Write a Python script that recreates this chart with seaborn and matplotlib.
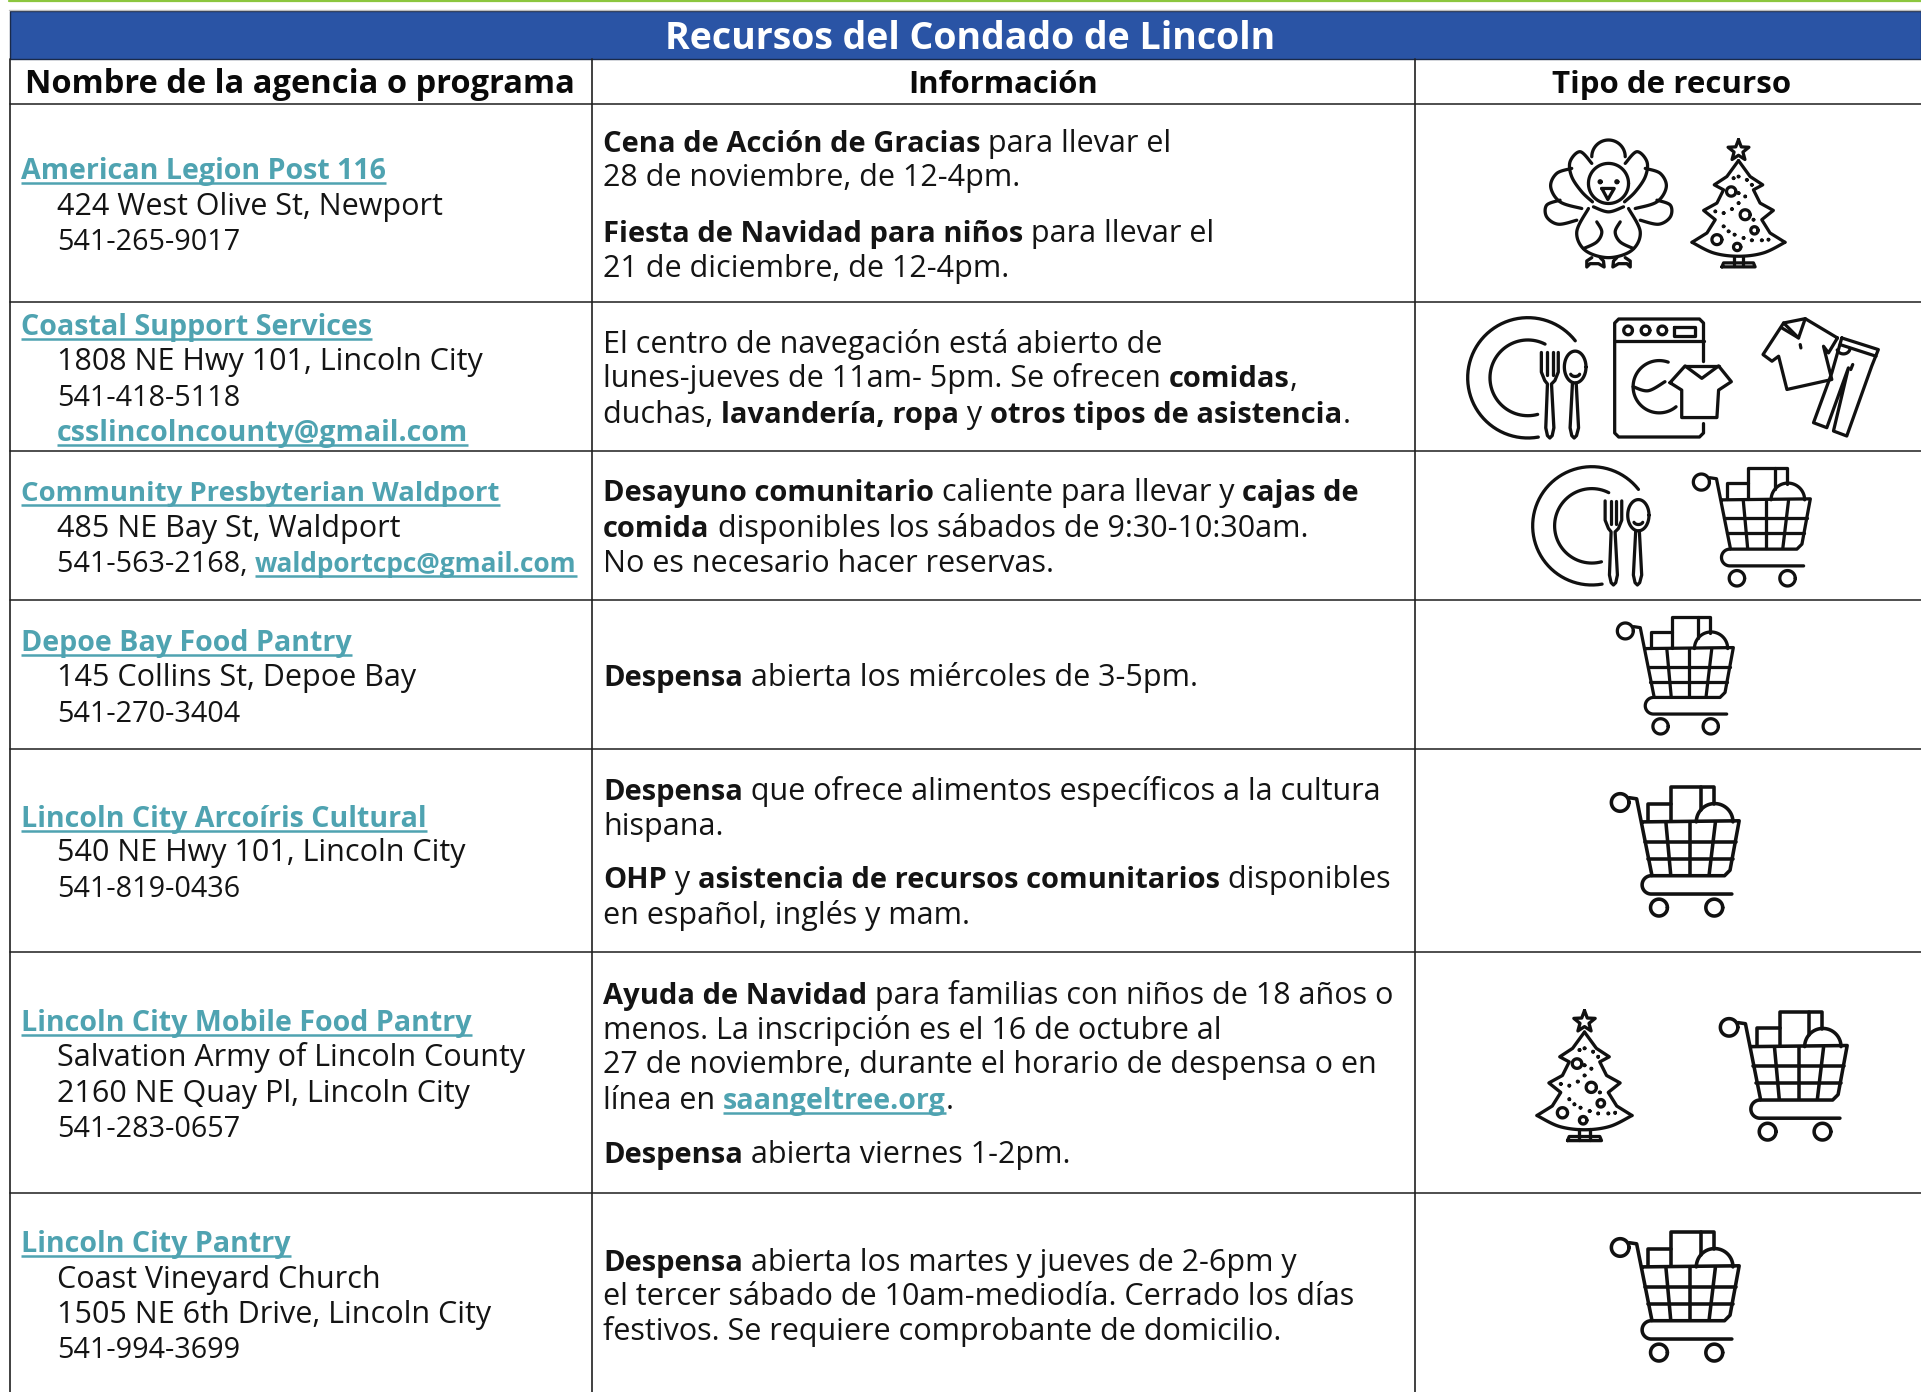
import numpy as np
import seaborn as sns
from matplotlib import pyplot as plt
from matplotlib.patches import Rectangle

sns.set_theme(style="white")
plt.rcParams["font.family"] = ["Open Sans", "DejaVu Sans"]

# table text, n = normal, b = bold, l = link
title = "Recursos del Condado de Lincoln"
headers = ["Nombre de la agencia o programa", "Información", "Tipo de recurso"]

agencies = [
    ["American Legion Post 116", "424 West Olive St, Newport", "541-265-9017"],
    ["Coastal Support Services", "1808 NE Hwy 101, Lincoln City", "541-418-5118", "@csslincolncounty@gmail.com"],
    ["Community Presbyterian Waldport", "485 NE Bay St, Waldport", "541-563-2168, @waldportcpc@gmail.com"],
    ["Depoe Bay Food Pantry", "145 Collins St, Depoe Bay", "541-270-3404"],
    ["Lincoln City Arcoíris Cultural", "540 NE Hwy 101, Lincoln City", "541-819-0436"],
    ["Lincoln City Mobile Food Pantry", "Salvation Army of Lincoln County", "2160 NE Quay Pl, Lincoln City", "541-283-0657"],
    ["Lincoln City Pantry", "Coast Vineyard Church", "1505 NE 6th Drive, Lincoln City", "541-994-3699"],
]

info = [
    [
        [("Cena de Acción de Gracias", "b"), (" para llevar el", "n")],
        [("28 de noviembre, de 12-4pm.", "n")],
        [("Fiesta de Navidad para niños", "b"), (" para llevar el", "n")],
        [("21 de diciembre, de 12-4pm.", "n")],
    ],
    [
        [("El centro de navegación está abierto de", "n")],
        [("lunes-jueves de 11am- 5pm. Se ofrecen ", "n"), ("comidas", "b"), (",", "n")],
        [("duchas, ", "n"), ("lavandería, ropa", "b"), (" y ", "n"), ("otros tipos de asistencia", "b"), (".", "n")],
    ],
    [
        [("Desayuno comunitario", "b"), (" caliente para llevar y ", "n"), ("cajas de", "b")],
        [("comida", "b"), (" disponibles los sábados de 9:30-10:30am.", "n")],
        [("No es necesario hacer reservas.", "n")],
    ],
    [
        [("Despensa", "b"), (" abierta los miércoles de 3-5pm.", "n")],
    ],
    [
        [("Despensa", "b"), (" que ofrece alimentos específicos a la cultura", "n")],
        [("hispana.", "n")],
        [("OHP", "b"), (" y ", "n"), ("asistencia de recursos comunitarios", "b"), (" disponibles", "n")],
        [("en español, inglés y mam.", "n")],
    ],
    [
        [("Ayuda de Navidad", "b"), (" para familias con niños de 18 años o", "n")],
        [("menos. La inscripción es el 16 de octubre al", "n")],
        [("27 de noviembre, durante el horario de despensa o en", "n")],
        [("línea en ", "n"), ("saangeltree.org", "l"), (".", "n")],
        [("Despensa", "b"), (" abierta viernes 1-2pm.", "n")],
    ],
    [
        [("Despensa", "b"), (" abierta los martes y jueves de 2-6pm y", "n")],
        [("el tercer sábado de 10am-mediodía. Cerrado los días", "n")],
        [("festivos. Se requiere comprobante de domicilio.", "n")],
    ],
]

# layout in image pixels
S = 1921 / 1568
row_lines = [104, 302, 451, 600, 749, 952, 1193]
col_lines = [10, 592, 1415]
agency_y = [
    [138, 167, 196], [265, 294, 323, 352], [401, 430, 459], [523, 552, 581],
    [667, 695, 724], [833, 862, 891, 920], [1014, 1043, 1072, 1100],
]
info_y = [
    [116, 144, 189, 218], [280, 308, 337], [401, 430, 459], [552],
    [645, 673, 717, 746], [811, 840, 868, 897, 941], [1029, 1057, 1086],
]
header_x = [300, 1003, 1672]
header_fs = [23.5, 22.3, 22.5]
# icon name, left, top, width
icons = [
    ("turkey", 1545, 140, 127), ("tree", 1692, 140, 93),
    ("plate", 1467, 318, 120), ("washer", 1613, 318, 119), ("clothes", 1762, 318, 118),
    ("plate", 1532, 467, 118), ("cart", 1693, 467, 119),
    ("cart", 1617, 616, 118),
    ("cart", 1611, 786, 130),
    ("tree", 1537, 1011, 95), ("cart", 1720, 1011, 129),
    ("cart", 1611, 1231, 130),
]

LINK = "#4FA3B1"
INK = "#141414"
FS_NORMAL = 22.0
FS_PHONE = 20.7
FS_BOLD = 21.0
FS_LINK = 20.6
# these two run wide in the substitute font
LINK_SCALE = {"waldportcpc@gmail.com": 0.92, "Community Presbyterian Waldport": 0.96}


def arc(cx, cy, rx, ry, a0=0, a1=360):
    a = np.radians(np.linspace(a0, a1, 60))
    return np.c_[cx + rx * np.cos(a), cy - ry * np.sin(a)]


def smooth(points):
    p = np.array(points, float)
    p = np.vstack([p[0], p, p[-1]])
    out = []
    for i in range(1, len(p) - 2):
        t = np.linspace(0, 1, 16)[:, None]
        a, b, c, d = p[i - 1], p[i], p[i + 1], p[i + 2]
        out.append(0.5 * (2 * b + (c - a) * t + (2 * a - 5 * b + 4 * c - d) * t**2 + (3 * b - a - 3 * c + d) * t**3))
    return np.vstack(out)


def mirror(points, x0):
    p = np.array(points, float)
    p[:, 0] = 2 * x0 - p[:, 0]
    return p


def cart():
    s = [arc(665, 65, 24, 24)]
    s.append(np.array([(690, 52), (710, 55), (752, 265), (950, 265), (965, 250), (990, 115), (725, 118)]))
    s += [np.array(q) for q in (
        [(790, 120), (803, 262)], [(857, 120), (857, 262)], [(925, 120), (908, 262)],
        [(732, 172), (980, 172)], [(740, 218), (972, 218)],
        [(742, 115), (742, 68), (805, 68)], [(805, 115), (805, 22), (920, 22), (920, 70)],
        [(885, 24), (885, 85)],
    )]
    s.append(np.vstack([arc(750, 290, 25, 25, 90, 270), [(970, 315)]]))
    s += [arc(771, 352, 23, 23), arc(922, 352, 23, 23), arc(923, 118, 50, 50, 0, 180)]
    return s, (640, 20, 355)


def plate():
    s = [arc(335, 197, 178, 178, 38, 280), arc(335, 197, 112, 112, 63, 285)]
    s.append(np.array([(375, 122), (375, 180), (385, 205), (393, 215), (388, 345), (393, 368), (400, 375),
                       (407, 368), (412, 345), (405, 215), (415, 205), (425, 180), (425, 122)]))
    s += [np.array([(392, 122), (392, 190)]), np.array([(408, 122), (408, 190)])]
    s.append(arc(475, 165, 32, 47))
    s.append(np.array([(467, 212), (460, 345), (465, 368), (472, 375), (479, 368), (485, 345), (478, 212)]))
    s.append(arc(475, 183, 14, 10, 200, 340))
    return s, (155, 20, 355)


def washer():
    s = [np.array([(910, 1085), (910, 970), (898, 958), (657, 958), (645, 970), (645, 1298), (657, 1310),
                   (898, 1310), (910, 1298), (910, 1270)])]
    s.append(np.array([(645, 1025), (910, 1025)]))
    s += [arc(685, 992, 13, 13), arc(737, 992, 13, 13), arc(787, 992, 13, 13)]
    s.append(np.array([(822, 982), (885, 982), (885, 1008), (822, 1008), (822, 982)]))
    s.append(arc(778, 1160, 78, 78, 70, 310))
    s.append(smooth([(700, 1160), (745, 1172), (795, 1145)]))
    s.append(np.array([(810, 1148), (855, 1098), (905, 1135), (955, 1098), (993, 1145), (955, 1170),
                       (950, 1252), (845, 1252), (845, 1170), (810, 1148)]))
    s.append(np.array([(855, 1098), (955, 1098)]))
    return s, (640, 955, 355)


def clothes():
    s = [np.array([(1312, 1015), (1215, 957), (1150, 970), (1088, 1065), (1115, 1085), (1135, 1070),
                   (1160, 1170), (1295, 1140), (1270, 1040), (1285, 1060), (1312, 1015)])]
    s += [np.array([(1145, 985), (1195, 1015), (1215, 957)]), np.array([(1150, 970), (1195, 1015)])]
    s.append(np.array([(1325, 1015), (1435, 1050), (1415, 1100), (1340, 1310), (1300, 1295), (1345, 1105),
                       (1280, 1285), (1240, 1270), (1295, 1120), (1325, 1015)]))
    s.append(np.array([(1320, 1035), (1428, 1070)]))
    s.append(arc(1330, 1045, 20, 18, 200, 340))
    s.append(np.array([(1200, 1035), (1202, 1045)]))
    s.append(np.array([(1358, 1095), (1352, 1110)]))
    return s, (1085, 955, 355)


def turkey():
    x0 = 625
    s = [arc(x0, 550, 60, 60), arc(x0, 470, 50, 50, 0, 180)]
    s.append(arc(600, 545, 3, 3))
    s.append(arc(650, 545, 3, 3))
    s.append(np.array([(605, 565), (642, 565), (623, 598), (605, 565)]))
    s.append(smooth([(565, 625), (530, 695), (555, 750), (625, 772), (695, 750), (720, 695), (685, 625)]))
    left = [
        [(575, 490), (540, 455), (510, 485), (515, 530), (545, 575), (577, 605)],
        [(515, 505), (470, 520), (452, 560), (480, 605), (545, 625)],
        [(480, 600), (440, 615), (440, 650), (475, 672), (530, 660)],
        [(590, 665), (605, 695), (590, 725), (550, 745)],
    ]
    for part in left:
        s.append(smooth(part))
        s.append(mirror(smooth(part), x0))
    s.append(smooth([(580, 620), (625, 635), (670, 620)]))
    foot = np.array([(575, 772), (560, 782), (560, 800), (570, 790), (595, 790), (612, 800), (610, 782), (600, 772)])
    s += [foot, mirror(foot, x0)]
    return s, (435, 420, 380)


def tree():
    x0 = 1015
    ang = np.radians(90 + 36 * np.arange(11))
    r = np.where(np.arange(11) % 2 == 0, 33, 14)
    s = [np.c_[x0 + r * np.cos(ang), 452 - r * np.sin(ang)]]
    side = [(1015, 482), (1050, 530), (1088, 555), (1060, 570), (1080, 610), (1120, 632), (1085, 660), (1110, 700),
            (1155, 728)]
    s.append(np.array(side))
    s.append(mirror(side, x0))
    s.append(smooth([(875, 728), (940, 760), (1015, 770), (1090, 760), (1155, 728)]))
    s += [arc(993, 575, 14, 14), arc(1035, 645, 15, 15), arc(1063, 692, 11, 11), arc(950, 720, 15, 15),
          arc(1011, 742, 11, 11)]
    s += [np.array([(1000, 768), (1000, 800)]), np.array([(1030, 768), (1030, 800)])]
    s.append(np.array([(965, 802), (1065, 802), (1060, 790), (970, 790), (965, 802)]))
    dots = [(1015, 530), (1040, 540), (1055, 555), (1015, 580), (1035, 590), (1015, 610), (995, 628), (970, 640),
            (945, 635), (970, 680), (985, 695), (1003, 705), (1030, 715), (1055, 722), (1085, 722), (1105, 720),
            (1000, 535), (1060, 660)]
    for d in dots:
        s.append(arc(d[0], d[1], 1, 1))
    return s, (875, 420, 280)


ICONS = {"cart": cart, "plate": plate, "washer": washer, "clothes": clothes, "turkey": turkey, "tree": tree}


def draw_icon(ax, name, left, top, width):
    strokes, (bx, by, size) = ICONS[name]()
    k = width / size
    for st in strokes:
        ax.plot(left + (st[:, 0] - bx) * k, top + (st[:, 1] - by) * k, color="#111111",
                lw=7.0 * k, solid_capstyle="round", solid_joinstyle="round")


def text_w(ax, rend, s, **kw):
    a = ax.text(0, 0, s + "|", **kw)
    b = ax.text(0, 0, "|", **kw)
    w = a.get_window_extent(rend).width - b.get_window_extent(rend).width
    a.remove()
    b.remove()
    return w


def draw_line(ax, rend, x, yc, segments):
    base = yc * S + 10
    for s, style in segments:
        if style == "l":
            size = FS_LINK * LINK_SCALE.get(s, 1)
        elif style == "b":
            size = FS_BOLD
        else:
            size = FS_PHONE if s.startswith("541-") else FS_NORMAL
        weight = "bold" if style in "bl" else "normal"
        ax.text(x, base, s, ha="left", va="baseline", fontsize=size, fontweight=weight,
                color=LINK if style == "l" else INK)
        w = text_w(ax, rend, s, fontsize=size, fontweight=weight)
        if style == "l":
            ax.plot([x, x + w], [base + 4, base + 4], color=LINK, lw=1.8, solid_capstyle="butt")
        x += w


fig = plt.figure(figsize=(19.21, 13.92), dpi=100, facecolor="white")
ax = fig.add_axes([0, 0, 1, 1])
ax.set_xlim(0, 1921)
ax.set_ylim(1392, 0)
ax.axis("off")
rend = fig.canvas.get_renderer()

# frame
ax.plot([9, 1921], [0.8, 0.8], color="#8CC63F", lw=1.6)
ax.plot([9, 1921], [10, 10], color="#BDBDBD", lw=1)
ax.add_patch(Rectangle((10, 11), 1911, 48, facecolor="#2A54A5", edgecolor="#1A2A4A", lw=1))
ax.text(970, 49, title, color="white", fontsize=27, fontweight="bold", ha="center", va="baseline")
for xc, fs, h in zip(header_x, header_fs, headers):
    ax.text(xc, 93, h, color="#0A0A0A", fontsize=fs, fontweight="bold", ha="center", va="baseline")

for y in row_lines:
    ax.plot([10, 1921], [y, y], color="#303030", lw=1.2)
for x in col_lines:
    ax.plot([x, x], [59, 1392], color="#202020", lw=1.2)

# agency column
for lines, ys in zip(agencies, agency_y):
    for i, (line, yc) in enumerate(zip(lines, ys)):
        if i == 0:
            draw_line(ax, rend, 21, yc, [(line, "l")])
        elif line.count("@") == 2:
            head, mail = line.split("@", 1)
            draw_line(ax, rend, 57, yc, [(head, "n"), (mail, "l")] if head else [(mail, "l")])
        else:
            draw_line(ax, rend, 57, yc, [(line, "n")])

# info column
for lines, ys in zip(info, info_y):
    for segs, yc in zip(lines, ys):
        draw_line(ax, rend, 603, yc, segs)

for name, left, top, width in icons:
    draw_icon(ax, name, left, top, width)

fig.savefig("out.png", dpi=100, facecolor="white")
